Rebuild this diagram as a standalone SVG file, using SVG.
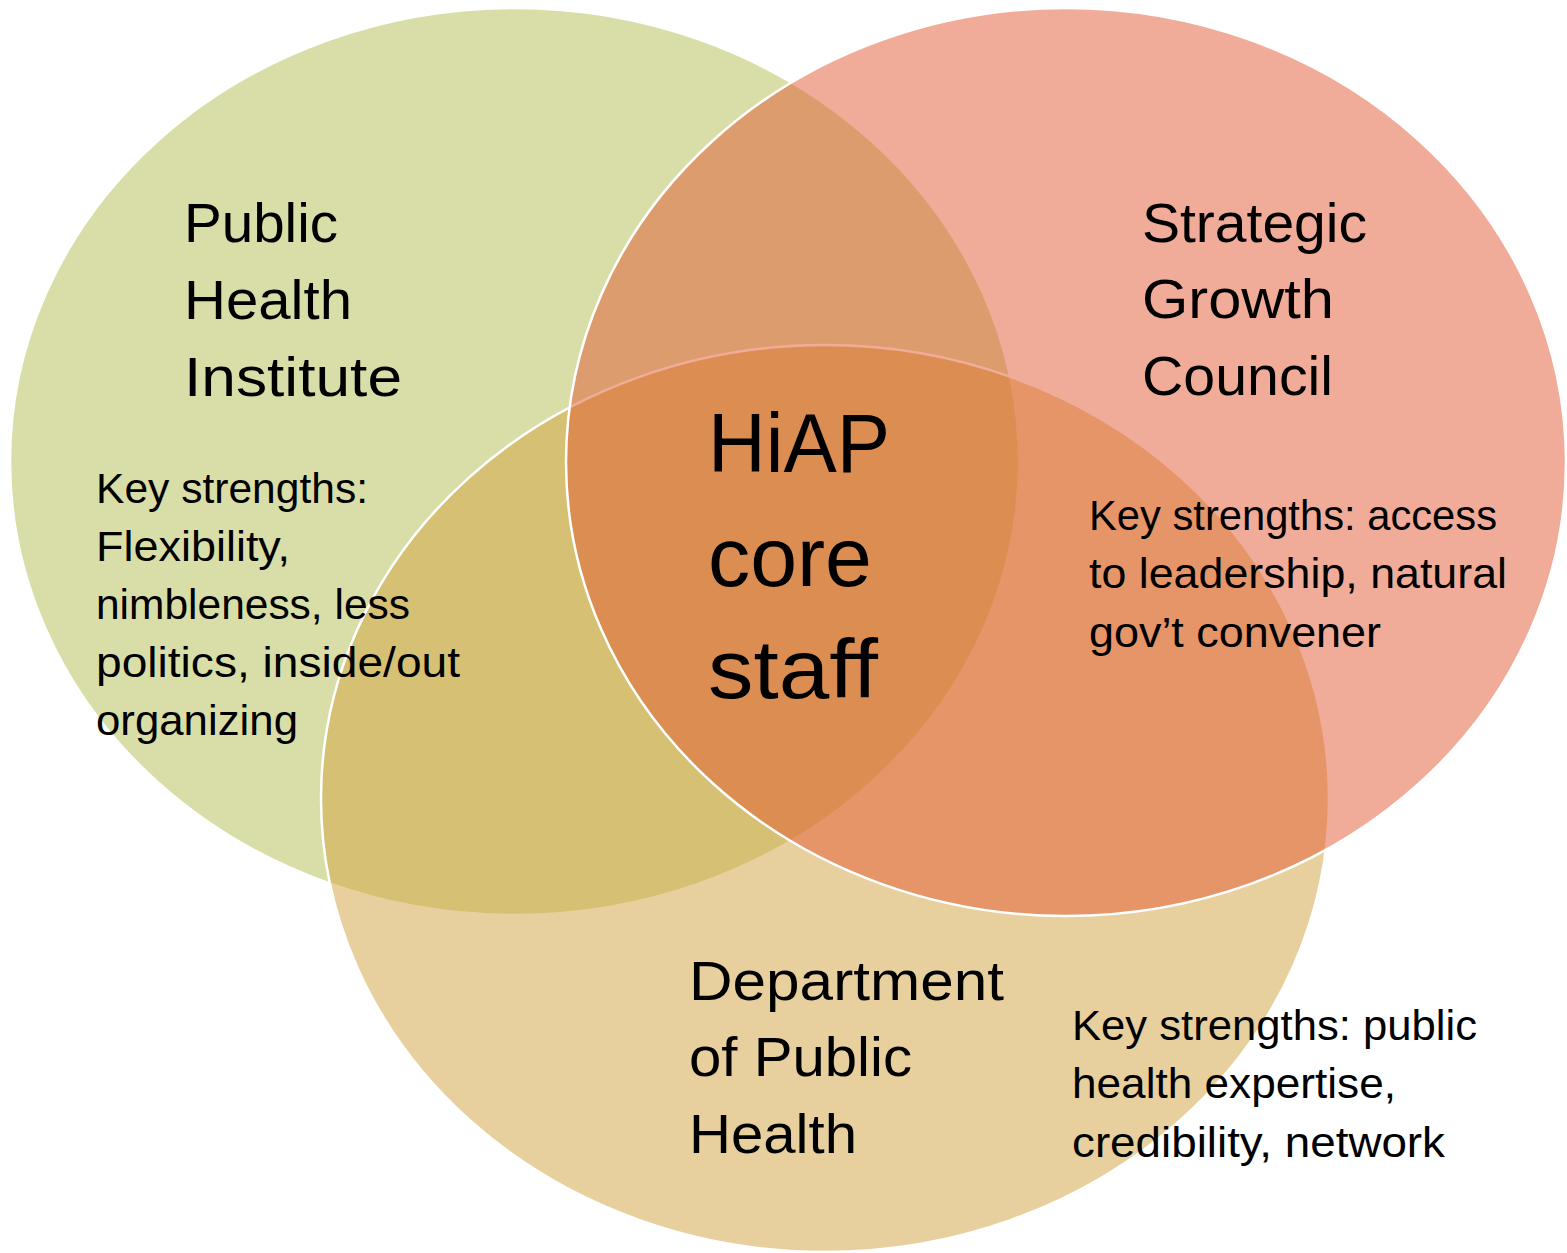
<svg xmlns="http://www.w3.org/2000/svg" width="1567" height="1253" viewBox="0 0 1567 1253">
<style>
.c{stroke:#FFFFFF;stroke-width:2.5;fill-opacity:0.5}
text{font-family:"Liberation Sans",Arial,sans-serif;fill:#000000}
.t{font-size:56px}
.s{font-size:42px}
.h{font-size:84px}
</style>
<rect width="1567" height="1253" fill="#FFFFFF"/>
<g id="phi">
<ellipse class="c" cx="514.5" cy="461.5" rx="504.5" ry="453.5" fill="#B3BD51"/>
</g>
<g id="dph">
<ellipse class="c" cx="825" cy="798.5" rx="504" ry="453.5" fill="#D1A13D"/>
</g>
<g id="sgc">
<ellipse class="c" cx="1066" cy="462" rx="500" ry="454" fill="#E15931"/>
</g>
<g id="connectors"></g>
<g id="phi-text">
<text class="t" x="184" y="242" textLength="154" lengthAdjust="spacingAndGlyphs">Public</text>
<text class="t" x="184" y="319" textLength="168" lengthAdjust="spacingAndGlyphs">Health</text>
<text class="t" x="184" y="396" textLength="218" lengthAdjust="spacingAndGlyphs">Institute</text>
<text class="s" x="96" y="503" textLength="272" lengthAdjust="spacingAndGlyphs">Key strengths:</text>
<text class="s" x="96" y="561" textLength="194" lengthAdjust="spacingAndGlyphs">Flexibility,</text>
<text class="s" x="96" y="619" textLength="314" lengthAdjust="spacingAndGlyphs">nimbleness, less</text>
<text class="s" x="96" y="677" textLength="364" lengthAdjust="spacingAndGlyphs">politics, inside/out</text>
<text class="s" x="96" y="735" textLength="202" lengthAdjust="spacingAndGlyphs">organizing</text>
</g>
<g id="sgc-text">
<text class="t" x="1142" y="242" textLength="225" lengthAdjust="spacingAndGlyphs">Strategic</text>
<text class="t" x="1142" y="318" textLength="192" lengthAdjust="spacingAndGlyphs">Growth</text>
<text class="t" x="1142" y="395" textLength="191" lengthAdjust="spacingAndGlyphs">Council</text>
<text class="s" x="1089" y="530" textLength="408" lengthAdjust="spacingAndGlyphs">Key strengths: access</text>
<text class="s" x="1089" y="588" textLength="418" lengthAdjust="spacingAndGlyphs">to leadership, natural</text>
<text class="s" x="1089" y="647" textLength="292" lengthAdjust="spacingAndGlyphs">gov’t convener</text>
</g>
<g id="core">
<text class="h" x="708" y="472" textLength="182" lengthAdjust="spacingAndGlyphs">HiAP</text>
<text class="h" x="708" y="586" textLength="164" lengthAdjust="spacingAndGlyphs">core</text>
<text class="h" x="708" y="698" textLength="170" lengthAdjust="spacingAndGlyphs">staff</text>
</g>
<g id="dph-text">
<text class="t" x="689" y="1000" textLength="315" lengthAdjust="spacingAndGlyphs">Department</text>
<text class="t" x="689" y="1076" textLength="223" lengthAdjust="spacingAndGlyphs">of Public</text>
<text class="t" x="689" y="1153" textLength="168" lengthAdjust="spacingAndGlyphs">Health</text>
<text class="s" x="1072" y="1040" textLength="405" lengthAdjust="spacingAndGlyphs">Key strengths: public</text>
<text class="s" x="1072" y="1098" textLength="324" lengthAdjust="spacingAndGlyphs">health expertise,</text>
<text class="s" x="1072" y="1157" textLength="373" lengthAdjust="spacingAndGlyphs">credibility, network</text>
</g>
</svg>
